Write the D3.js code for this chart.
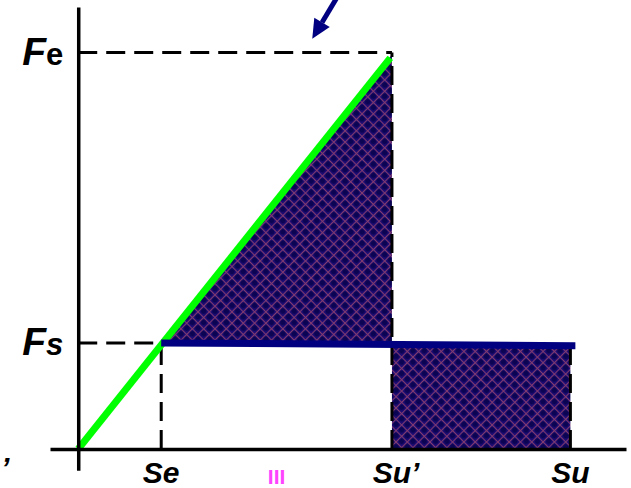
<!DOCTYPE html>
<html>
<head>
<meta charset="utf-8">
<script src="https://cdn.jsdelivr.net/npm/d3@7"></script>
<style>
  html, body { margin: 0; padding: 0; background: #fff; }
  svg { display: block; }
</style>
</head>
<body>
<div id="chart"></div>
<script>
// stress (S) vs force (F) diagram with hatched areas

const X_LABELS = ["Se", "Su’", "Su"];
const X_VALUES = [1.0, 3.78, 5.93];

const Y_LABELS = [["F", "s"], ["F", "e"]];
const Y_VALUES = [1.0, 3.74];

// green loading line (s, f)
const LOAD_S = [0, 3.76];
const LOAD_F = [0, 3.69];

// navy yield line
const YIELD_S = [1.0, 5.99];
const YIELD_F = [1.0, 0.975];

// hatched triangle and rectangle
const TRI_S = [1.0, 3.78, 3.78];
const TRI_F = [1.0, 3.72, 1.0];
const RECT_S = [3.78, 5.93, 5.93, 3.78];
const RECT_F = [0.962, 0.962, 0, 0];

// arrow annotation (tail -> tip)
const ARROW_S = [3.11, 2.82];
const ARROW_F = [4.25, 3.87];

const MARK_TEXT = "III";

function drawChart(containerId) {
    const container = d3.select(containerId);
    container.selectAll("*").remove();

    const width = 631, height = 488;

    const svg = container.append("svg")
        .attr("width", width)
        .attr("height", height);

    const x = d3.scaleLinear()
        .domain([-0.34, 6.6])
        .range([50, 626]);

    const y = d3.scaleLinear()
        .domain([-0.2, 4.17])
        .range([470.2, 7]);

    // crosshatch pattern
    const defs = svg.append("defs");
    const pat = defs.append("pattern")
        .attr("id", "hatch")
        .attr("patternUnits", "userSpaceOnUse")
        .attr("width", 8)
        .attr("height", 8)
        .attr("patternTransform", "rotate(45)");
    pat.append("rect")
        .attr("width", 8).attr("height", 8)
        .attr("fill", "#1e0c74");
    pat.append("circle")
        .attr("cx", 4).attr("cy", 4).attr("r", 2.8)
        .attr("fill", "#0a0452");
    pat.append("path")
        .attr("d", "M0,0.5H8M0.5,0V8")
        .attr("stroke", "#a24c6c")
        .attr("stroke-width", 1.1)
        .attr("stroke-opacity", 0.75);

    const line = d3.line()
        .x(d => x(d[0]))
        .y(d => y(d[1]));

    const zip = (a, b) => a.map((v, i) => [v, b[i]]);

    // hatched areas
    svg.append("path")
        .datum(zip(TRI_S, TRI_F))
        .attr("d", d => line(d) + "Z")
        .attr("fill", "url(#hatch)");

    svg.append("path")
        .datum(zip(RECT_S, RECT_F))
        .attr("d", d => line(d) + "Z")
        .attr("fill", "url(#hatch)");

    // dashed guides
    const dash = "19,9";
    const guides = [
        [[0, Y_VALUES[1]], [X_VALUES[1], Y_VALUES[1]]],
        [[0, Y_VALUES[0]], [X_VALUES[0], Y_VALUES[0]]],
        [[X_VALUES[0], 0], [X_VALUES[0], Y_VALUES[0]]],
        [[X_VALUES[1], 0], [X_VALUES[1], Y_VALUES[1]]],
        [[X_VALUES[2], 0], [X_VALUES[2], RECT_F[0]]]
    ];
    guides.forEach(g => {
        svg.append("path")
            .datum(g)
            .attr("d", line)
            .attr("fill", "none")
            .attr("stroke", "#000")
            .attr("stroke-width", 3)
            .attr("stroke-dasharray", dash);
    });

    // loading line
    svg.append("path")
        .datum(zip(LOAD_S, LOAD_F))
        .attr("d", line)
        .attr("fill", "none")
        .attr("stroke", "#00ff00")
        .attr("stroke-width", 7);

    // yield line
    svg.append("path")
        .datum(zip(YIELD_S, YIELD_F))
        .attr("d", line)
        .attr("fill", "none")
        .attr("stroke", "#000080")
        .attr("stroke-width", 7);

    // axes
    svg.append("g")
        .attr("transform", `translate(0,${y(0)})`)
        .call(d3.axisBottom(x).ticks(0).tickSizeOuter(0))
        .select(".domain")
        .attr("stroke", "#000")
        .attr("stroke-width", 3.5);

    svg.append("g")
        .attr("transform", `translate(${x(0)},0)`)
        .call(d3.axisLeft(y).ticks(0).tickSizeOuter(0))
        .select(".domain")
        .attr("stroke", "#000")
        .attr("stroke-width", 3.5);

    // arrow
    const ax0 = x(ARROW_S[0]), ay0 = y(ARROW_F[0]);
    const ax1 = x(ARROW_S[1]), ay1 = y(ARROW_F[1]);
    const ang = Math.atan2(ay1 - ay0, ax1 - ax0);
    const headLen = 19, headW = 9;
    const bx = ax1 - headLen * Math.cos(ang), by = ay1 - headLen * Math.sin(ang);
    svg.append("line")
        .attr("x1", ax0).attr("y1", ay0)
        .attr("x2", bx).attr("y2", by)
        .attr("stroke", "#000080")
        .attr("stroke-width", 5);
    svg.append("path")
        .attr("d", `M${ax1},${ay1}L${bx + headW * Math.sin(ang)},${by - headW * Math.cos(ang)}L${bx - headW * Math.sin(ang)},${by + headW * Math.cos(ang)}Z`)
        .attr("fill", "#000080");

    // y labels
    Y_LABELS.forEach((lab, i) => {
        const t = svg.append("text")
            .attr("x", x(0) - 15)
            .attr("y", y(Y_VALUES[i]) + 12)
            .attr("text-anchor", "end")
            .style("font-family", "Liberation Sans, Arial, sans-serif")
            .style("font-weight", "bold");
        t.append("tspan")
            .style("font-style", "italic")
            .style("font-size", "39px")
            .text(lab[0]);
        t.append("tspan")
            .style("font-size", "31px")
            .style("font-style", i === 0 ? "italic" : "normal")
            .text(lab[1]);
    });

    // x labels
    X_LABELS.forEach((lab, i) => {
        const t = svg.append("text")
            .attr("y", 483)
            .style("font-family", "Liberation Sans, Arial, sans-serif")
            .style("font-weight", "bold")
            .style("font-style", "italic")
            .style("font-size", "30px")
            .text(lab.replace("’", ""));
        const w = t.node().getComputedTextLength();
        t.text(lab).attr("x", x(X_VALUES[i]) - w / 2);
    });

    // apostrophe mark at left edge
    svg.append("text")
        .attr("x", 1)
        .attr("y", 478)
        .style("font-family", "Liberation Sans, Arial, sans-serif")
        .style("font-weight", "bold")
        .style("font-style", "italic")
        .style("font-size", "30px")
        .text("’");

    // small pink mark
    svg.append("text")
        .attr("x", x((X_VALUES[0] + X_VALUES[1]) / 2))
        .attr("y", 484)
        .attr("text-anchor", "middle")
        .style("font-family", "Liberation Sans, Arial, sans-serif")
        .style("font-weight", "bold")
        .style("font-size", "21px")
        .style("fill", "#ff44ff")
        .text(MARK_TEXT);
}

drawChart("#chart");
</script>
</body>
</html>
